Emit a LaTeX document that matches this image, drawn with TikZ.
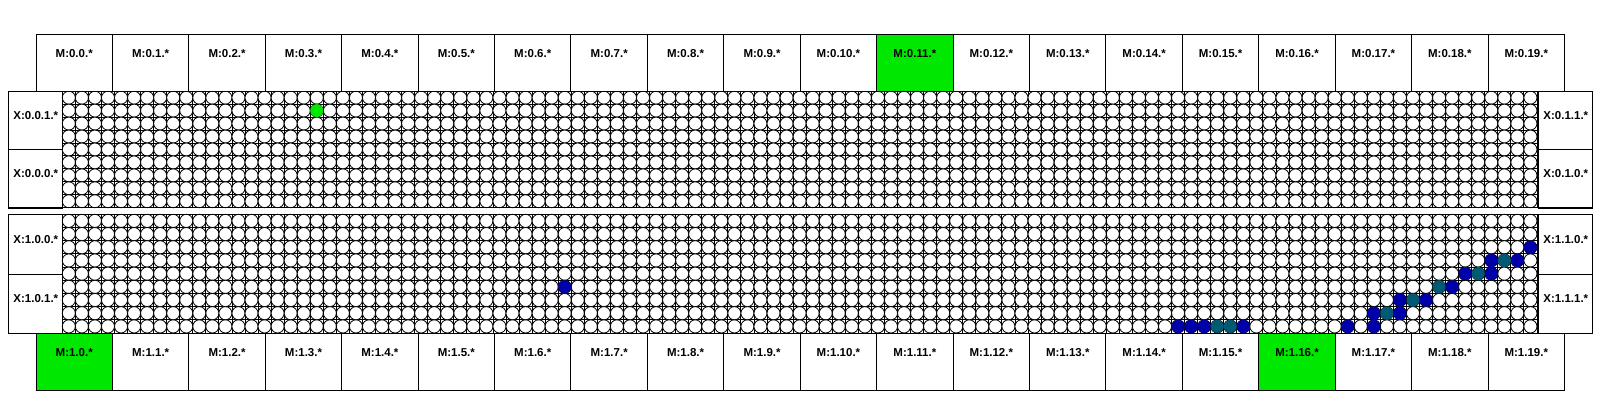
\documentclass[tikz,border=0pt]{standalone}
\usepackage{fontspec}
\setmainfont{Liberation Sans}
\definecolor{mgreen}{RGB}{0,232,0}
\definecolor{dblue}{RGB}{0,0,170}
\definecolor{dteal}{RGB}{0,90,115}
\begin{document}
\begin{tikzpicture}[x=1pt,y=-1pt,
  lbl/.style={font=\fontsize{11.5}{13}\selectfont\bfseries},
  mbox/.style={lbl,draw=black,line width=1pt,inner sep=0pt,minimum width=76.425pt,minimum height=57pt,text height=22.6pt,text depth=34.4pt,anchor=north west},
  xbox/.style={lbl,draw=black,line width=1pt,inner sep=0pt,minimum width=54pt,anchor=north west},
  gline/.style={line width=0.9pt,black},
  cell/.style={draw=black,fill=white,line width=0.8pt},
  frame/.style={draw=black,line width=1pt}]
\useasboundingbox (0,0) rectangle (1600,400);
\fill[white] (0,0) rectangle (1600,400);
% grid blocks
\foreach \top/\pit in {91.2/12.944, 214.3/13.189}{
  \pgfmathsetmacro\ry{\pit/2}
  \foreach \c in {0,...,113}{\draw[gline] ({62.3+\c*13.05},\top) -- ++(0,{9*\pit});}
  \foreach \r in {0,...,9}{\draw[gline] (62.3,{\top+\r*\pit}) -- (1536.95,{\top+\r*\pit});}
  \foreach \c in {0,...,112}{\foreach \r in {0,...,8}{
    \draw[cell] ({62.3+(\c+0.5)*13.05},{\top+(\r+0.5)*\pit}) ellipse [x radius=6.525, y radius=\ry];}}
}
% coloured dots, top block
\fill[mgreen] ({62.3+19.5*13.05},{91.2+1.5*12.944}) ellipse [x radius=6.525, y radius=6.472];
% coloured dots, bottom block
\foreach \c/\r/\k in {38/5/dblue, 85/8/dblue, 86/8/dblue, 87/8/dblue, 88/8/dteal, 89/8/dteal, 90/8/dblue,
  98/8/dblue, 100/8/dblue, 100/7/dblue, 101/7/dteal, 102/7/dblue, 102/6/dblue, 103/6/dteal, 104/6/dblue,
  105/5/dteal, 106/5/dblue, 107/4/dblue, 108/4/dteal, 109/4/dblue, 109/3/dblue, 110/3/dteal, 111/3/dblue, 112/2/dblue}{
  \fill[\k] ({62.3+(\c+0.5)*13.05},{214.3+(\r+0.5)*13.189}) ellipse [x radius=6.525, y radius=6.594];
}
% block frames
\draw[frame] (8.3,91.2) rectangle (1592.3,207.7);
\draw[frame] (8.3,214.3) rectangle (1592.3,333);
% X boxes
\node[xbox,minimum height=58.25pt,text height=27.8pt,text depth=30.45pt] (x001) at (8.3,91.2) {X:0.0.1.*};
\node[xbox,minimum height=58.25pt,text height=27.8pt,text depth=30.45pt] (x000) at (8.3,149.45) {X:0.0.0.*};
\node[xbox,minimum height=58.25pt,text height=27.8pt,text depth=30.45pt] (x011) at (1538.3,91.2) {X:0.1.1.*};
\node[xbox,minimum height=58.25pt,text height=27.8pt,text depth=30.45pt] (x010) at (1538.3,149.45) {X:0.1.0.*};
\node[xbox,minimum height=59.35pt,text height=28.8pt,text depth=30.55pt] (x100) at (8.3,214.3) {X:1.0.0.*};
\node[xbox,minimum height=59.35pt,text height=28.8pt,text depth=30.55pt] (x101) at (8.3,273.65) {X:1.0.1.*};
\node[xbox,minimum height=59.35pt,text height=28.8pt,text depth=30.55pt] (x110) at (1538.3,214.3) {X:1.1.0.*};
\node[xbox,minimum height=59.35pt,text height=28.8pt,text depth=30.55pt] (x111) at (1538.3,273.65) {X:1.1.1.*};
% M boxes
\foreach \i in {0,...,19}{
  \def\fc{white}\ifnum\i=11 \def\fc{mgreen}\fi
  \node[mbox,fill=\fc,minimum height=57.2pt,text depth=34.6pt] (mt\i) at ({35.5+\i*76.425},34) {M:0.\i.*};
  \def\fb{white}\ifnum\i=0 \def\fb{mgreen}\fi\ifnum\i=16 \def\fb{mgreen}\fi
  \node[mbox,fill=\fb] (mb\i) at ({35.5+\i*76.425},333) {M:1.\i.*};
}
\end{tikzpicture}
\end{document}
